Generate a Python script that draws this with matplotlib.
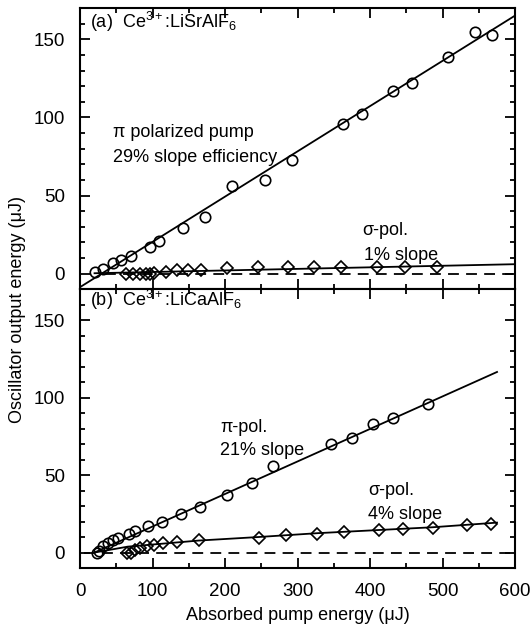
import numpy as np
import matplotlib
matplotlib.use("Agg")
from matplotlib.figure import Figure
from matplotlib import rcParams
from matplotlib.ticker import MultipleLocator

rcParams["font.family"] = ["Liberation Sans", "DejaVu Sans"]
rcParams["mathtext.fontset"] = "custom"
rcParams["mathtext.rm"] = "Liberation Sans"
rcParams["mathtext.it"] = "Liberation Sans"
rcParams["mathtext.default"] = "regular"

# (a) Ce:LiSrAlF6, pi polarized pump
pi_a_x = [21, 32, 46, 56, 70, 97, 109, 142, 172, 210, 255, 292, 363, 389, 432, 458, 508, 544, 568]
pi_a_y = [1, 3, 6.5, 8.4, 11, 17, 21, 29, 36, 56, 60, 72.5, 96, 102, 117, 122, 139, 155, 153]
# (a) sigma polarized pump
sig_a_x = [63, 73, 83, 91, 97, 102, 118, 134, 149, 167, 203, 246, 287, 323, 360, 410, 448, 492]
sig_a_y = [-0.6, -0.5, -0.3, 0, 0, 0.3, 1.3, 2.3, 2.6, 2.6, 3.6, 3.9, 4.1, 4.1, 4.1, 4.1, 4.1, 4.1]

# (b) Ce:LiCaAlF6, pi polarized pump
pi_b_x = [23, 26, 32, 39, 46, 53, 67, 76, 94, 113, 139, 166, 202, 237, 266, 346, 375, 404, 432, 480]
pi_b_y = [0, 1, 4, 6.4, 8.3, 9.6, 12, 14, 17, 20, 25, 29.5, 37, 45, 56, 70, 74, 83, 87, 96]
# (b) sigma polarized pump
sig_b_x = [65, 70, 76, 83, 92, 102, 114, 134, 164, 247, 284, 327, 364, 412, 446, 487, 534, 566]
sig_b_y = [-0.5, 0, 1.5, 3, 4, 5, 6, 7, 8.3, 9.6, 11, 12, 13, 14.5, 15.5, 16, 17.5, 18.5]

# linear fits: slope and threshold
pi_a_slope, pi_a_thresh = 0.29, 30
sig_a_slope, sig_a_thresh = 0.01, 0
pi_b_slope, pi_b_thresh = 0.21, 20
# sigma fit for (b) bends near threshold
sig_b_fit_x = [20, 66, 131, 163, 246, 328, 411, 486, 575]
sig_b_fit_y = [0, 3.8, 6.4, 7.7, 10.0, 12.5, 14.5, 16.3, 19.3]

FS = 13

fig = Figure(figsize=(5.3, 6.3), dpi=100)
fig.patch.set_facecolor("white")
ax_a = fig.add_axes([0.151, 0.541, 0.821, 0.446])
ax_b = fig.add_axes([0.151, 0.0984, 0.821, 0.4426])

for ax in (ax_a, ax_b):
    ax.set_xlim(0, 600)
    ax.set_ylim(-10, 170)
    ax.xaxis.set_major_locator(MultipleLocator(100))
    ax.xaxis.set_minor_locator(MultipleLocator(50))
    ax.yaxis.set_major_locator(MultipleLocator(50))
    ax.yaxis.set_minor_locator(MultipleLocator(10))
    ax.tick_params(which="both", direction="in", top=True, right=True,
                   width=1.3, labelsize=13.5)
    ax.tick_params(axis="x", pad=11)
    ax.tick_params(axis="y", pad=11)
    ax.tick_params(which="major", length=7)
    ax.tick_params(which="minor", length=3.5)
    for sp in ax.spines.values():
        sp.set_linewidth(1.5)
    ax.set_yticks([0, 50, 100, 150])

ax_a.tick_params(labelbottom=False)

dash = (0, (6, 4))

# panel (a)
fx = np.array([0, 600])
ax_a.plot(fx, pi_a_slope * (fx - pi_a_thresh), color="black", lw=1.3)
ax_a.plot([20, 600], sig_a_slope * (np.array([20, 600]) - sig_a_thresh), color="black", lw=1.3)
ax_a.plot([35, 600], [0, 0], color="black", lw=1.3, ls=dash)
ax_a.plot(pi_a_x, pi_a_y, ls="none", marker="o", ms=7.5, mfc="none", mec="black", mew=1.2)
ax_a.plot(sig_a_x, sig_a_y, ls="none", marker="D", ms=6, mfc="none", mec="black", mew=1.2)
ax_a.text(14, 161, r"(a)  Ce$^{3+}$:LiSrAlF$_6$", fontsize=FS, va="center")
ax_a.text(45, 90.5, "π polarized pump", fontsize=FS, va="center")
ax_a.text(45, 74.5, "29% slope efficiency", fontsize=FS, va="center")
ax_a.text(389, 27.5, "σ-pol.", fontsize=FS, va="center")
ax_a.text(391, 11.5, "1% slope", fontsize=FS, va="center")

# panel (b)
bx = np.array([20, 575])
ax_b.plot(bx, pi_b_slope * (bx - pi_b_thresh), color="black", lw=1.3)
ax_b.plot(sig_b_fit_x, sig_b_fit_y, color="black", lw=1.3)
ax_b.plot([5, 600], [0, 0], color="black", lw=1.3, ls=dash)
ax_b.plot(pi_b_x, pi_b_y, ls="none", marker="o", ms=7.5, mfc="none", mec="black", mew=1.2)
ax_b.plot(sig_b_x, sig_b_y, ls="none", marker="D", ms=6, mfc="none", mec="black", mew=1.2)
ax_b.text(14, 163, r"(b)  Ce$^{3+}$:LiCaAlF$_6$", fontsize=FS, va="center")
ax_b.text(193, 81, "π-pol.", fontsize=FS, va="center")
ax_b.text(193, 66, "21% slope", fontsize=FS, va="center")
ax_b.text(397, 40, "σ-pol.", fontsize=FS, va="center")
ax_b.text(397, 24.5, "4% slope", fontsize=FS, va="center")

ax_b.set_xlabel("Absorbed pump energy (μJ)", fontsize=FS, labelpad=5)
fig.text(0.033, 0.508, "Oscillator output energy (μJ)", rotation=90,
         fontsize=FS, ha="center", va="center")

fig.savefig("out.png", dpi=100)
